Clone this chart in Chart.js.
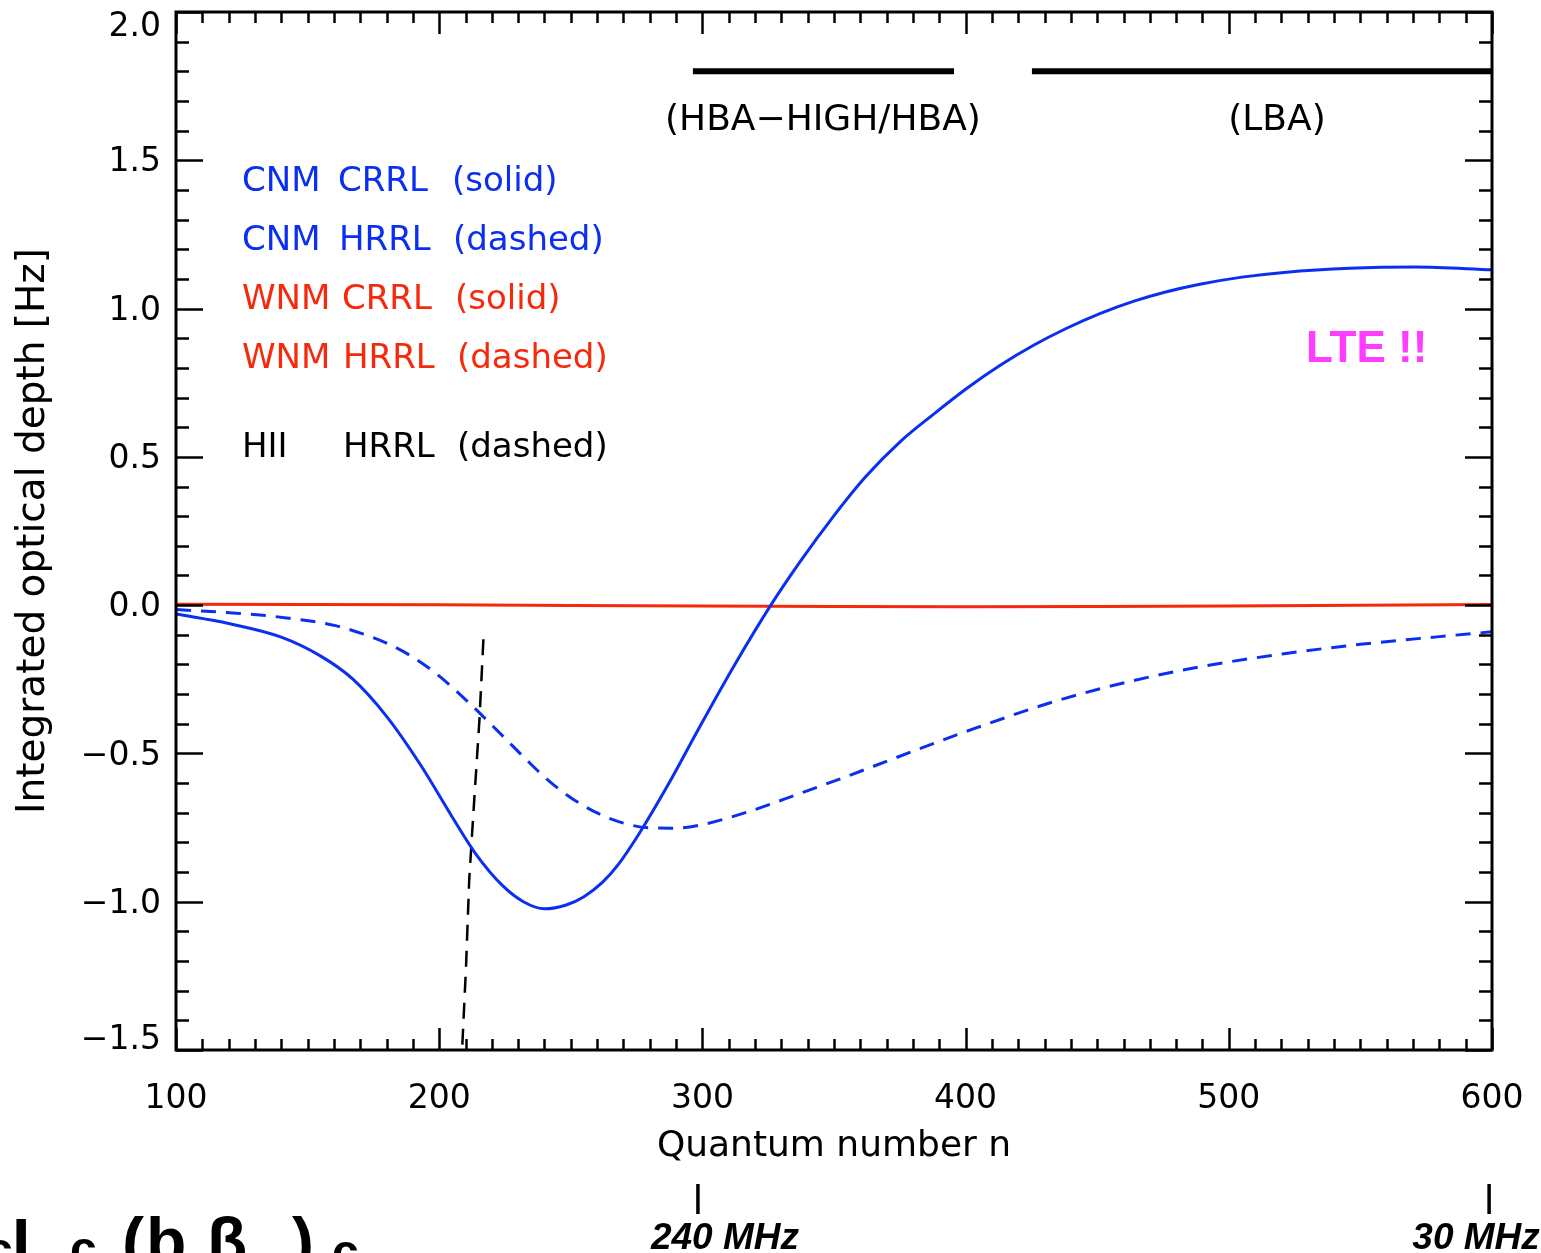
<!DOCTYPE html>
<html><head><meta charset="utf-8">
<script src="https://cdn.jsdelivr.net/npm/chart.js@4/dist/chart.umd.min.js"></script>
<style>html,body{margin:0;padding:0;background:#fff;overflow:hidden}</style>
</head><body>
<canvas id="c" width="1541" height="1253"></canvas>
<script>
// ---------------- data ----------------
const nCnmCrrl   = [100, 120, 140, 155, 167, 180, 193, 205, 214, 224, 232, 240, 248, 255, 262, 268, 276, 287, 299, 312, 326, 337, 350, 362, 375, 388, 400, 413, 426, 438, 451, 464, 476, 489, 505, 521, 546, 571, 600];
const tauCnmCrrl = [-0.03, -0.062, -0.108, -0.172, -0.248, -0.375, -0.54, -0.715, -0.84, -0.945, -1.0, -1.024, -1.012, -0.983, -0.935, -0.875, -0.77, -0.605, -0.41, -0.205, 0.0, 0.145, 0.302, 0.433, 0.55, 0.645, 0.728, 0.808, 0.877, 0.932, 0.983, 1.025, 1.056, 1.082, 1.106, 1.122, 1.136, 1.140, 1.131];

const nCnmHrrl   = [100, 123, 142, 161, 171, 180, 189, 199, 212, 224, 233, 242, 251, 261, 270, 280, 290, 299, 318, 337, 355, 371, 388, 404, 433, 462, 491, 521, 550, 579, 600];
const tauCnmHrrl = [-0.015, -0.027, -0.043, -0.07, -0.097, -0.128, -0.17, -0.232, -0.335, -0.44, -0.52, -0.595, -0.655, -0.705, -0.735, -0.751, -0.752, -0.742, -0.695, -0.635, -0.577, -0.523, -0.466, -0.414, -0.327, -0.258, -0.205, -0.164, -0.132, -0.107, -0.09];

const nWnmCrrl   = [100, 200, 300, 400, 500, 600];
const tauWnmCrrl = [0.003, 0.001, -0.003, -0.005, -0.003, 0.002];

const nHiiHrrl   = [216.8, 215.3, 213.0, 211.4, 210.2, 208.7, 208.3];
const tauHiiHrrl = [-0.115, -0.385, -0.70, -0.926, -1.218, -1.5, -1.6];

const bandNames  = ['(HBA\u2212HIGH/HBA)', '(LBA)'];
const bandStart  = [296.4, 425.2];
const bandEnd    = [395.6, 600];
const bandLevel  = 1.80;

const xTickValues = [100, 200, 300, 400, 500, 600];
const yTickValues = [-1.5, -1.0, -0.5, 0.0, 0.5, 1.0, 1.5, 2.0];

const legendMedium = ['CNM', 'CNM', 'WNM', 'WNM', 'HII'];
const legendLine   = ['CRRL', 'HRRL', 'CRRL', 'HRRL', 'HRRL'];
const legendStyle  = ['(solid)', '(dashed)', '(solid)', '(dashed)', '(dashed)'];

const freqLabels = ['240 MHz', '30 MHz'];
const freqN      = [298.3, 598.9];

const xTitle = 'Quantum number n';
const yTitle = 'Integrated optical depth [Hz]';
const lteNote = 'LTE !!';

// ---------------- styles ----------------
const BLUE = '#0a2ff0', RED = '#f5290c', MAGENTA = '#ff3cff';
const FONT = 'DejaVu Sans';
Chart.defaults.font.family = FONT;
Chart.defaults.color = '#000';

const pts = (xs, ys) => xs.map((x, i) => ({x, y: ys[i]}));

const datasets = [
  {label: 'CNM CRRL', data: pts(nCnmCrrl, tauCnmCrrl), borderColor: BLUE, borderWidth: 3, cubicInterpolationMode: 'monotone'},
  {label: 'CNM HRRL', data: pts(nCnmHrrl, tauCnmHrrl), borderColor: BLUE, borderWidth: 3, borderDash: [15, 10], cubicInterpolationMode: 'monotone'},
  {label: 'WNM CRRL', data: pts(nWnmCrrl, tauWnmCrrl), borderColor: RED, borderWidth: 3, tension: 0.4},
  {label: 'HII HRRL', data: pts(nHiiHrrl, tauHiiHrrl), borderColor: '#000', borderWidth: 2.5, borderDash: [16, 10], tension: 0}
];
bandNames.forEach((nm, i) => {
  datasets.push({label: nm, data: [{x: bandStart[i], y: bandLevel}, {x: bandEnd[i], y: bandLevel}],
    borderColor: '#000', borderWidth: 6, borderCapStyle: 'butt', tension: 0});
});
datasets.forEach(d => { d.showLine = true; d.pointRadius = 0; d.fill = false; });

const overlay = {
  id: 'overlay',
  afterDraw(chart) {
    const ctx = chart.ctx, xs = chart.scales.x, ys = chart.scales.y, a = chart.chartArea;
    ctx.save();
    // box
    ctx.strokeStyle = '#000'; ctx.lineWidth = 3; ctx.lineCap = 'butt';
    ctx.strokeRect(a.left, a.top, a.right - a.left, a.bottom - a.top);
    // inward ticks on all four sides
    ctx.lineWidth = 2.5;
    ctx.beginPath();
    for (let k = 10; k <= 60; k++) {
      const v = k * 10;
      const px = Math.round(xs.getPixelForValue(v)) + 0.5;
      const L = (k % 10 === 0) ? 22 : 11;
      ctx.moveTo(px, a.bottom); ctx.lineTo(px, a.bottom - L);
      ctx.moveTo(px, a.top); ctx.lineTo(px, a.top + L);
    }
    for (let k = -15; k <= 20; k++) {
      const v = k / 10;
      const py = Math.round(ys.getPixelForValue(v)) + 0.5;
      const L = (k % 5 === 0) ? 27 : 13;
      ctx.moveTo(a.left, py); ctx.lineTo(a.left + L, py);
      ctx.moveTo(a.right, py); ctx.lineTo(a.right - L, py);
    }
    ctx.stroke();
    // y tick labels
    ctx.fillStyle = '#000';
    ctx.font = '33px "' + FONT + '"';
    ctx.textAlign = 'right'; ctx.textBaseline = 'middle';
    yTickValues.forEach(v => {
      let py = ys.getPixelForValue(v) + 2.5;
      py = Math.max(a.top + 15, Math.min(a.bottom - 10, py));
      ctx.fillText(v.toFixed(1).replace('-', '\u2212'), a.left - 15, py);
    });
    // band labels
    ctx.textAlign = 'center'; ctx.textBaseline = 'middle';
    ctx.font = '36px "' + FONT + '"';
    const bandLabelN = [345.8, 518.3];
    bandNames.forEach((nm, i) => ctx.fillText(nm, xs.getPixelForValue(bandLabelN[i]), a.top + 109));
    // legend text
    ctx.textAlign = 'left'; ctx.textBaseline = 'alphabetic';
    ctx.font = '34px "' + FONT + '"';
    const rowY = [191, 250, 309, 368, 457];
    const rowCol = [BLUE, BLUE, RED, RED, '#000'];
    const col2 = [338, 339, 342, 343, 343];
    const col3 = [452, 453, 455, 457, 457];
    legendMedium.forEach((m, i) => {
      ctx.fillStyle = rowCol[i];
      ctx.fillText(m, 242, rowY[i]);
      ctx.fillText(legendLine[i], col2[i], rowY[i]);
      ctx.fillText(legendStyle[i], col3[i], rowY[i]);
    });
    // LTE note
    ctx.fillStyle = MAGENTA;
    ctx.font = 'bold 44px "Liberation Sans"';
    ctx.fillText(lteNote, 1306, 362);
    // frequency markers below the axis
    ctx.fillStyle = '#000'; ctx.strokeStyle = '#000'; ctx.lineWidth = 3.5;
    ctx.font = 'italic bold 37px "Liberation Sans"';
    ctx.textAlign = 'center';
    const fOff = [27, -13];
    freqLabels.forEach((t, i) => {
      const px = xs.getPixelForValue(freqN[i]);
      ctx.beginPath(); ctx.moveTo(px, 1184); ctx.lineTo(px, 1214); ctx.stroke();
      ctx.fillText(t, px + fOff[i], 1249);
    });
    // clipped formula at bottom left
    ctx.textAlign = 'left';
    const big = 'bold 66px "Liberation Sans"', mid = 'bold 48px "Liberation Sans"', sub = 'bold 38px "Liberation Sans"';
    const pieces = [['c', -14, 1266, mid], ['I', 12, 1265, big], ['c', 70, 1265, mid], ['(', 122, 1264, big],
      ['b', 146, 1264, big], ['n', 182, 1274, sub], ['\u03b2', 207, 1264, big], ['n', 247, 1274, sub],
      [')', 292, 1264, big], ['c', 332, 1268, mid]];
    pieces.forEach(p => { ctx.font = p[3]; ctx.fillText(p[0], p[1], p[2]); });
    ctx.restore();
  }
};

new Chart(document.getElementById('c'), {
  type: 'scatter',
  data: {datasets},
  options: {
    responsive: false, animation: false, devicePixelRatio: 1,
    layout: {padding: {left: 0, right: 49, top: 12, bottom: 0}},
    plugins: {legend: {display: false}, tooltip: {enabled: false}},
    scales: {
      x: {
        type: 'linear', position: 'bottom', min: 100, max: 600,
        grid: {display: false, drawTicks: false}, border: {display: false},
        afterBuildTicks: s => { s.ticks = xTickValues.map(v => ({value: v})); },
        ticks: {padding: 30, font: {size: 33}, color: '#000', maxRotation: 0, autoSkip: false, callback: v => String(v)},
        title: {display: true, text: xTitle, font: {size: 36}, color: '#000', padding: {top: 0, bottom: 85}},
        afterFit: s => { s.height = 203; s.paddingLeft = 0; s.paddingRight = 0; }
      },
      y: {
        type: 'linear', position: 'left', min: -1.5, max: 2.0,
        grid: {display: false, drawTicks: false}, border: {display: false},
        afterBuildTicks: s => { s.ticks = yTickValues.map(v => ({value: v})); },
        ticks: {display: false},
        title: {display: true, text: yTitle, font: {size: 39}, color: '#000', padding: {top: 10, bottom: 0}},
        afterFit: s => { s.width = 176; s.paddingTop = 0; s.paddingBottom = 0; }
      }
    }
  },
  plugins: [overlay]
});
</script>
</body></html>
